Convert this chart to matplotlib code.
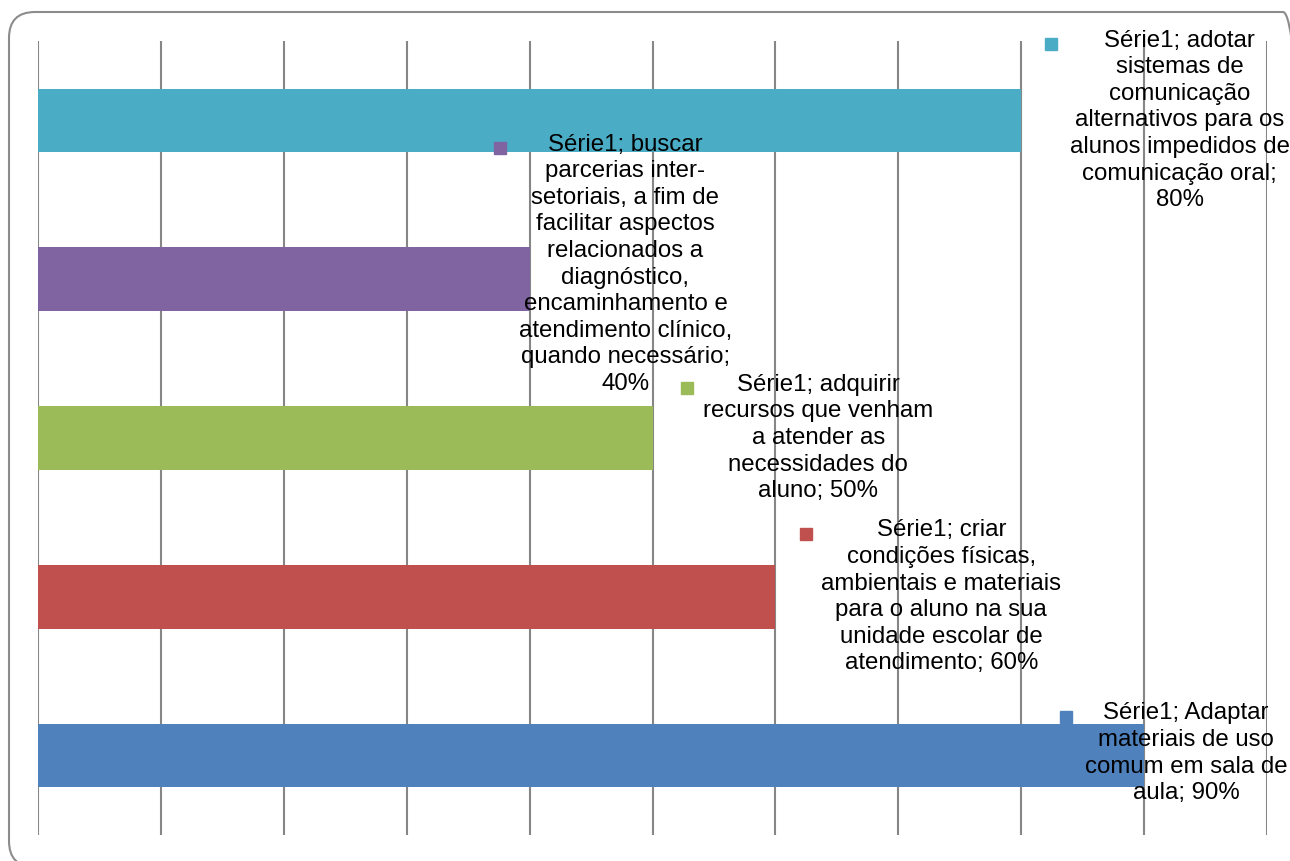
import textwrap

import matplotlib.pyplot as plt
from matplotlib.patches import FancyBboxPatch
from matplotlib.transforms import IdentityTransform

plt.rcParams['font.family'] = ['Liberation Sans', 'DejaVu Sans']

# categories from bottom bar to top bar (Excel draws the first one at the bottom)
categories = ['Adaptar materiais de uso comum em sala de aula',
              'criar condições físicas, ambientais e materiais para o aluno na sua unidade escolar de atendimento',
              'adquirir recursos que venham a atender as necessidades do aluno',
              'buscar parcerias inter-setoriais, a fim de facilitar aspectos relacionados a diagnóstico, encaminhamento e atendimento clínico, quando necessário',
              'adotar sistemas de comunicação alternativos para os alunos impedidos de comunicação oral']
values = [90, 60, 50, 40, 80]
series_name = 'Série1'

colors = ['#4F81BD', '#C0504D', '#9BBB59', '#8064A2', '#4BACC6']
# where Excel put each data label (centre, in data units), wrap width
# and the gap (px) between the legend key and the first line
label_x = [93.4, 73.5, 63.5, 47.8, 92.9]
label_dy = [0.015, 0.0, 0.0, 0.094, 0.0]
wrap_width = [20, 22, 20, 20, 20]
key_gap = [37, 71, 50, 48, 53]

fs = 17.3
lsp = 1.27

fig = plt.figure(figsize=(12.9, 8.61), dpi=100)
ax = fig.add_axes([38 / 1290, 26 / 861, 1229 / 1290, 794 / 861])

ypos = list(range(len(categories)))
ax.barh(ypos, values, height=0.4, color=colors, zorder=3)
ax.set_xlim(0, 100)
ax.set_ylim(-0.5, len(categories) - 0.5)
ax.set_xticks(range(0, 101, 10))
ax.set_yticks([])
ax.tick_params(axis='x', length=0, labelbottom=False)
ax.grid(axis='x', color='#868686', linewidth=1.5, zorder=1)
for s in ax.spines.values():
    s.set_visible(False)

texts = []
firsts = []
for i, (cat, v) in enumerate(zip(categories, values)):
    lines = textwrap.wrap(f'{series_name}; {cat}; {v}%', width=wrap_width[i])
    firsts.append(lines[0])
    t = ax.text(label_x[i], ypos[i] + label_dy[i], '\n'.join(lines),
                ha='center', va='center', multialignment='center',
                fontsize=fs, linespacing=lsp, color='black', zorder=5)
    texts.append(t)

# legend key squares in front of the first line of each label
fig.canvas.draw()
r = fig.canvas.get_renderer()
inv = ax.transData.inverted()
for t, first, c, gap in zip(texts, firsts, colors, key_gap):
    bb = t.get_window_extent(r)
    tmp = ax.text(0, 0, first, fontsize=fs)
    w = tmp.get_window_extent(r).width
    tmp.remove()
    cx = (bb.x0 + bb.x1) / 2
    mx = cx - w / 2 - gap
    my = bb.y1 - 0.6 * fs * 100 / 72
    dx, dy = inv.transform((mx, my))
    ax.plot(dx, dy, marker='s', markersize=9, color=c, clip_on=False, zorder=6)

# rounded chart border (pixel coordinates, runs off the right and bottom edges)
border = FancyBboxPatch((9, -6), 1300, 855,
                        boxstyle='round,pad=0,rounding_size=26',
                        transform=IdentityTransform(), fill=False,
                        edgecolor='#8c8c8c', linewidth=1.5)
fig.patches.append(border)

fig.savefig('out.png', dpi=100)
